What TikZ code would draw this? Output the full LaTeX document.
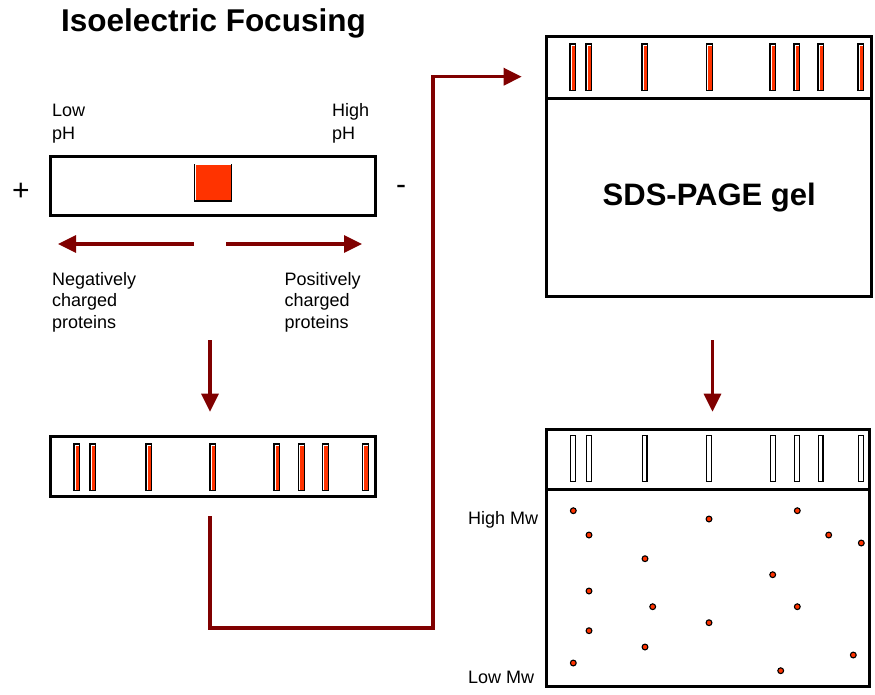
\documentclass[tikz,border=0pt]{standalone}
\usepackage{fontspec}
\setmainfont{Liberation Sans}
\usetikzlibrary{arrows.meta}
\definecolor{gelred}{HTML}{FF3300}
\definecolor{arrowred}{HTML}{800000}
\newcommand\redband[3]{%
  \fill[black] (#1,#2) rectangle (#1+7,#3);
  \fill[white] (#1+1.2,#2+1.2) rectangle (#1+5.8,#3-1.2);
  \fill[gelred] (#1+2.2,#2+2.2) rectangle (#1+5.8,#3-1.2);}
\newcommand\emptyband[3]{%
  \draw[black, line width=1.1pt, fill=white] (#1+0.55,#2+0.55) rectangle (#1+5.3,#3-0.55);}
\newcommand\spot[2]{%
  \draw[black, line width=1.1pt, fill=gelred] (#1,#2) circle (2.9pt);}
\begin{document}
\begin{tikzpicture}[x=1pt, y=-1pt,
  box/.style={draw=black, line width=3pt, inner sep=0pt, fill=white},
  small/.style={font=\fontsize{18}{21}\selectfont, inner sep=0pt, anchor=base west},
  arr/.style={draw=arrowred, line width=3.3pt, -{Triangle[length=18pt,width=17pt]}},
  link/.style={draw=arrowred, line width=3.3pt}]
\useasboundingbox (0,0) rectangle (875,694);

% title
\node[anchor=base west, inner sep=0pt, font=\fontsize{31.5}{36}\selectfont\bfseries] (title) at (61,31.7) {Isoelectric Focusing};

% IEF strip with sample
\node[box, minimum width=325pt, minimum height=59pt] (strip1) at (213,186) {};
\node[draw=black, line width=1.4pt, fill=gelred, minimum size=36.6pt, inner sep=0pt] (sample) at (213,182.5) {};
\draw[white, line width=1.1pt] ([shift={(1.25pt,1.25pt)}]sample.south west) |- ([shift={(-1.25pt,-1.25pt)}]sample.north east);

\node[font=\fontsize{30}{34}\selectfont, inner sep=0pt] (plus) at (21,191.5) {+};
\node[font=\fontsize{30}{34}\selectfont, inner sep=0pt] (minus) at (401,190) {-};

\node[small] (low1) at (52,116) {Low};
\node[small] (low2) at (52,139) {pH};
\node[small] (high1) at (332,116) {High};
\node[small] (high2) at (332,139) {pH};

% migration arrows
\coordinate (la) at (194,244);
\coordinate (lb) at (58,244);
\coordinate (ra) at (226,244);
\coordinate (rb) at (362,244);
\draw[arr] (la) -- (lb);
\draw[arr] (ra) -- (rb);

\node[small] (neg1) at (52,285) {Negatively};
\node[small] (neg2) at (52,306.7) {charged};
\node[small] (neg3) at (52,328.3) {proteins};
\node[small] (pos1) at (284.5,285) {Positively};
\node[small] (pos2) at (284.5,306.7) {charged};
\node[small] (pos3) at (284.5,328.3) {proteins};

% down arrow 1
\coordinate (d1a) at (210,340);
\coordinate (d1b) at (210,411.7);
\draw[arr] (d1a) -- (d1b);

% focused strip
\node[box, minimum width=325pt, minimum height=59.6pt] (strip2) at (212.5,466.5) {};
\foreach \bx in {73.3,89.3,145.3,209.3,273.3,297.7,321.7,361.7}
  {\redband{\bx}{443.3}{490.7}}

% connector to SDS-PAGE
\coordinate (ls) at (210,516);
\coordinate (lc1) at (210,628);
\coordinate (lc2) at (433,628);
\coordinate (lc3) at (433,76.7);
\coordinate (le) at (521.7,76.7);
\draw[link, -{Triangle[length=18pt,width=17pt]}] (ls) -- (lc1) -- (lc2) -- (lc3) -- (le);

% SDS-PAGE gel
\node[box, minimum width=325pt, minimum height=62pt] (geltop) at (709.2,67.7) {};
\node[box, minimum width=325pt, minimum height=197.8pt, font=\fontsize{31}{36}\selectfont\bfseries] (gelbody) at (709.2,197.6) {SDS-PAGE gel};
\foreach \bx in {569.3,585.3,641.3,705.7,769.3,793.3,817.3,857.3}
  {\redband{\bx}{43.3}{90.7}}

% down arrow 2
\coordinate (d2a) at (712.5,340);
\coordinate (d2b) at (712.5,411.7);
\draw[arr] (d2a) -- (d2b);

% resulting 2D gel
\node[box, minimum width=322.3pt, minimum height=60.3pt] (resulttop) at (707.85,459.15) {};
\node[box, minimum width=322.3pt, minimum height=197.4pt] (resultbody) at (707.85,588) {};
\foreach \bx in {570,586,641.7,706,770,794.3,817.7,858.3}
  {\emptyband{\bx}{435}{482.3}}

\spot{573.3}{510.7}
\spot{589}{535}
\spot{645}{558.7}
\spot{709}{519}
\spot{797.3}{510.7}
\spot{828.7}{535}
\spot{861.3}{543}
\spot{772.7}{574.7}
\spot{589}{591}
\spot{652.7}{606.7}
\spot{797.3}{606.7}
\spot{709}{622.7}
\spot{589}{630.7}
\spot{645}{647}
\spot{573.3}{663}
\spot{853.3}{655}
\spot{780.7}{670.7}

\node[small] (highmw) at (468,524) {High Mw};
\node[small] (lowmw) at (468,683.3) {Low Mw};
\end{tikzpicture}
\end{document}
